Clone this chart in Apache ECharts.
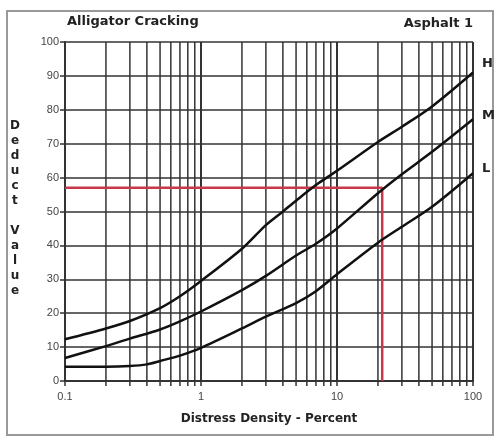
<!DOCTYPE html>
<html><head><meta charset="utf-8">
<script src="https://cdn.jsdelivr.net/npm/echarts@6/dist/echarts.min.js"></script>
<style>html,body{margin:0;padding:0;background:#fff}#c{width:495px;height:438px}</style>
</head><body><div id="c"></div>
<script>
// Data
const densityH = [0.1, 0.2, 0.3, 0.5, 0.7, 1, 2, 3, 4, 5, 7, 10, 20, 30, 50, 100];
const deductH  = [12.3, 15.5, 17.7, 21.5, 25, 29.5, 39, 46, 50, 53.2, 57.8, 62, 70.5, 75, 81, 91];
const densityM = [0.1, 0.2, 0.3, 0.5, 0.7, 1, 2, 3, 5, 7, 10, 20, 30, 50, 100];
const deductM  = [6.8, 10.3, 12.5, 15.2, 17.6, 20.5, 26.8, 31, 37, 40.5, 45, 55.4, 61, 67.6, 77.2];
const densityL = [0.1, 0.2, 0.3, 0.4, 0.5, 0.7, 1, 2, 3, 5, 7, 10, 20, 30, 50, 100];
const deductL  = [4.2, 4.2, 4.4, 4.9, 5.9, 7.5, 9.8, 15.5, 19, 23, 26.5, 31.5, 40.8, 45.5, 51.4, 61.3];
const exampleDensity = 21.5;
const exampleDeduct = 57;
const minorGridX = [0.2,0.3,0.4,0.5,0.6,0.7,0.8,0.9,2,3,4,5,6,7,8,9,20,30,40,50,60,70,80,90];
const seriesNames = ['H', 'M', 'L'];
const titleText = 'Alligator Cracking';
const subtitleText = 'Asphalt 1';
const xAxisName = 'Distress Density - Percent';
const yAxisName = 'Deduct Value';

const pair = (xs, ys) => xs.map((x, i) => [x, ys[i]]);
const gridColor = '#333';
const chart = echarts.init(document.getElementById('c'));

const curve = (name, xs, ys, dy) => ({
  name, type: 'line', data: pair(xs, ys), smooth: 0.3, symbol: 'none',
  lineStyle: { color: '#111', width: 2.5 }, z: 5,
  endLabel: { show: true, formatter: name, offset: [1, dy], fontWeight: 'bold',
    fontSize: 13, color: '#222', fontFamily: 'DejaVu Sans' }
});

chart.setOption({
  animation: false,
  grid: { left: 65, right: 22, top: 42, bottom: 57 },
  graphic: [
    { type: 'rect', shape: { x: 7, y: 11, width: 486, height: 424 },
      style: { fill: 'none', stroke: '#999', lineWidth: 2 } },
    { type: 'text', left: 67, top: 15,
      style: { text: titleText, font: 'bold 13px "DejaVu Sans"', fill: '#222' } },
    { type: 'text', right: 22, top: 17,
      style: { text: subtitleText, font: 'bold 13px "DejaVu Sans"', fill: '#222', textAlign: 'right' } },
    { type: 'text', left: 10, top: 118,
      style: { text: yAxisName.split('').join('\n'), font: 'bold 12px "DejaVu Sans"',
        lineHeight: 15, fill: '#222', textAlign: 'center' } }
  ],
  xAxis: {
    type: 'log', logBase: 10, min: 0.1, max: 100,
    name: xAxisName, nameLocation: 'middle', nameGap: 32,
    nameTextStyle: { fontWeight: 'bold', fontSize: 12, color: '#222', fontFamily: 'DejaVu Sans' },
    axisLine: { lineStyle: { color: gridColor, width: 2 } },
    axisTick: { show: true, length: 5, lineStyle: { color: gridColor, width: 1.5 } },
    axisLabel: { fontSize: 11, color: '#444', margin: 10, fontFamily: 'Liberation Sans',
      formatter: v => String(v) },
    splitLine: { show: true, lineStyle: { color: gridColor, width: 2 } }
  },
  yAxis: {
    type: 'value', min: 0, max: 100, interval: 10,
    axisLine: { show: true, lineStyle: { color: gridColor, width: 2 } },
    axisTick: { show: true, length: 5, lineStyle: { color: gridColor, width: 1.5 } },
    axisLabel: { fontSize: 11, color: '#444', margin: 6, fontFamily: 'Liberation Sans' },
    splitLine: { show: true, lineStyle: { color: gridColor, width: 1.6 } }
  },
  series: [
    {
      type: 'custom', silent: true, z: 1,
      data: minorGridX.map(v => [v, 0]),
      encode: { x: 0, y: 1 },
      renderItem: (params, api) => {
        const x = api.value(0);
        const top = api.coord([x, 100]);
        const bot = api.coord([x, 0]);
        return { type: 'line', shape: { x1: top[0], y1: top[1], x2: bot[0], y2: bot[1] + 5 },
          style: { stroke: gridColor, lineWidth: 1.5 } };
      }
    },
    {
      type: 'line', name: 'example', symbol: 'none', z: 4,
      data: [[0.1, exampleDeduct], [exampleDensity, exampleDeduct], [exampleDensity, 0]],
      lineStyle: { color: '#c8384a', width: 2.5 }
    },
    curve(seriesNames[0], densityH, deductH, -9),
    curve(seriesNames[1], densityM, deductM, -4),
    curve(seriesNames[2], densityL, deductL, -5)
  ]
});
</script>
</body></html>
